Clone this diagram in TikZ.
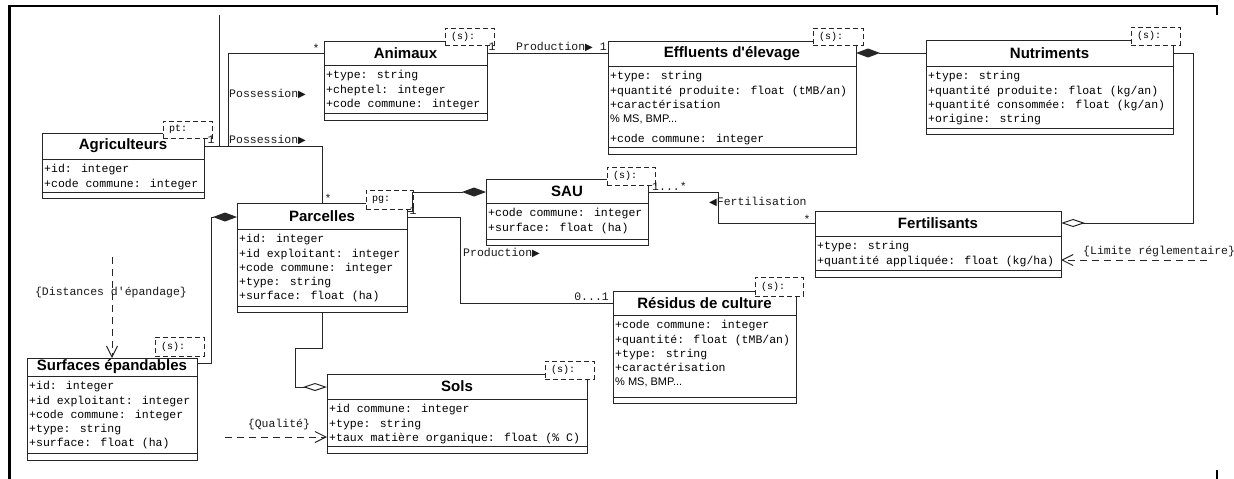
\documentclass[tikz,border=0pt]{standalone}
\usepackage{fontspec}
\newfontfamily\sansf{Liberation Sans}
\newfontfamily\monof{Liberation Mono}
\newfontfamily\symf{DejaVu Sans}
\usetikzlibrary{arrows.meta}
\newcommand{\rtri}{{\symf\fontsize{10}{10}\selectfont\raisebox{0.3pt}{▶}}}
\newcommand{\ltri}{{\symf\fontsize{10}{10}\selectfont\raisebox{0.3pt}{◀}}}
\newcommand{\pms}{{\sansf\fontsize{11}{14.3}\selectfont\% MS, BMP...}}
\tikzset{
  cbox/.style={draw=black!85, line width=1pt, inner sep=0pt, outer sep=0pt},
  cline/.style={draw=black!85, line width=1pt},
  ctitle/.style={font=\sansf\bfseries\fontsize{15}{18}\selectfont, inner sep=0pt},
  cattr/.style={font=\monof\fontsize{11.5}{14.3}\selectfont, align=left, inner sep=0pt},
  stbox/.style={draw=black!85, line width=1pt, dash pattern=on 5pt off 3pt, fill=white, inner sep=0pt, outer sep=0pt},
  sttxt/.style={font=\monof\fontsize{10}{12}\selectfont, inner sep=0pt, anchor=west},
  conn/.style={draw=black!85, line width=1pt},
  dep/.style={draw=black!85, line width=1pt, dash pattern=on 7pt off 5pt, -{Straight Barb[length=11pt,width=11pt]}},
  fdiam/.style={arrows={Diamond[length=24pt,width=9pt]-}},
  odiam/.style={arrows={-Diamond[length=24pt,width=8pt,fill=white]}},
  lbl/.style={font=\monof\fontsize{11.5}{12}\selectfont, inner sep=0pt, text=black!90},
}
\newcommand{\umlclass}[9]{%
  \node[cbox, minimum width={(#4-#2)*1pt}, minimum height={(#7-#3)*1pt}, anchor=north west] (#1) at (#2,#3) {};
  \draw[cline] (#2,#5) -- (#4,#5);
  \draw[cline] (#2,#6) -- (#4,#6);
  \node[ctitle] (#1-t) at ({(#2+#4)/2},{(#3+#5)/2}) {#8};
  \node[cattr, anchor=north west] (#1-a) at (#2+2,#5+3.5) {\rule{0pt}{10pt}#9};
}
\newcommand{\stereo}[6]{%
  \node[stbox, minimum width={(#4-#2)*1pt}, minimum height={(#5-#3)*1pt}, anchor=north west] (#1) at (#2,#3) {};
  \node[sttxt] (#1-t) at ([xshift=6pt]#1.west) {#6};
}
\begin{document}
\begin{tikzpicture}[x=1pt,y=-1pt]
\useasboundingbox (0,0) rectangle (1234,479);
\fill[white] (0,0) rectangle (1234,479);
% frame
\draw[line width=2.5pt] (8,6) -- (1218.2,6);
\draw[line width=2.5pt] (9.5,6) -- (9.5,479);
\draw[line width=2.5pt] (1217,6) -- (1217,15);
\draw[line width=2.5pt] (1217,470) -- (1217,479);

% classes
\umlclass{agri}{42}{133}{204}{159}{192}{198}{Agriculteurs}{+id: integer\\+code commune: integer}
\umlclass{animaux}{324}{41}{487}{65}{113}{120}{Animaux}{+type: string\\+cheptel: integer\\+code commune: integer}
\umlclass{effluents}{608}{41}{856}{66}{147}{154}{Effluents d'élevage}{+type: string\\+quantité produite: float (tMB/an)\\+caractérisation\\\pms\\[6pt]+code commune: integer}
\umlclass{nutriments}{926}{40}{1173}{66}{128}{134}{Nutriments}{+type: string\\+quantité produite: float (kg/an)\\+quantité consommée: float (kg/an)\\+origine: string}
\umlclass{parcelles}{237}{203}{407}{229}{306}{312}{Parcelles}{+id: integer\\+id exploitant: integer\\+code commune: integer\\+type: string\\+surface: float (ha)}
\umlclass{sau}{486}{179}{648}{203}{239}{245}{SAU}{+code commune: integer\\+surface: float (ha)}
\umlclass{fert}{815}{211}{1061}{236}{270}{277}{Fertilisants}{+type: string\\+quantité appliquée: float (kg/ha)}
\umlclass{residus}{613}{291}{796}{315}{397}{403}{Résidus de culture}{+code commune: integer\\+quantité: float (tMB/an)\\+type: string\\+caractérisation\\\pms}
\umlclass{sols}{327}{374}{587}{399}{446}{453}{Sols}{+id commune: integer\\+type: string\\+taux matière organique: float (\% C)}
\umlclass{surfaces}{27}{358}{197}{376}{453}{460}{Surfaces épandables}{+id: integer\\+id exploitant: integer\\+code commune: integer\\+type: string\\+surface: float (ha)}

% stereotype tags
\stereo{st-agri}{163}{121}{212}{138}{pt:}
\stereo{st-animaux}{445}{28}{494}{45}{(s):}
\stereo{st-effluents}{813}{28}{863}{45}{(s):}
\stereo{st-nutriments}{1131}{27}{1180}{45}{(s):}
\stereo{st-parcelles}{366}{190}{413}{209}{pg:}
\stereo{st-sau}{607}{167}{655}{185}{(s):}
\stereo{st-residus}{755}{277}{803}{296}{(s):}
\stereo{st-sols}{545}{361}{594}{379}{(s):}
\stereo{st-surfaces}{155}{337}{204}{356}{(s):}

% connectors
\coordinate (agrip) at ([yshift=-13pt]agri.north east);
\coordinate (topend) at (219,15);
\draw[conn] (topend) -- (topend |- agrip);
\draw[conn] (agrip) -- ++(24,0) |- ([yshift=-12pt]animaux.north west);
\draw[conn] (agrip) -| ([xshift=85pt]parcelles.north west);
\draw[conn] ([yshift=-12pt]animaux.north east) -- ([yshift=-12pt]effluents.north west);
\draw[conn, fdiam] ([yshift=-12pt]effluents.north east) -- ([yshift=-13pt]nutriments.north west);
\draw[conn, odiam] ([yshift=-13pt]nutriments.north east) -- ++(20,0) |- ([yshift=-12pt]fert.north east);
\draw[conn] ([yshift=-13pt]sau.north east) -- ++(70,0) |- ([yshift=-12pt]fert.north west);
\draw[conn, fdiam] ([yshift=-13pt]sau.north west) -- ++(-74,0) -- ++(0,19) -- ([yshift=-8pt]parcelles.north east);
\draw[conn] ([yshift=-14pt]parcelles.north east) -- ++(53,0) |- ([yshift=-12pt]residus.north west);
\draw[conn, fdiam] ([yshift=-14pt]parcelles.north west) -- ++(-26,0) |- ([yshift=-5pt]surfaces.north east);
\draw[conn, odiam] ([xshift=85pt]parcelles.south west) -- ++(0,36) -- ++(-27,0) |- ([yshift=-13pt]sols.north west);
\coordinate (dstart) at (112,257);
\draw[dep] (dstart) -- (surfaces.north);
\coordinate (qstart) at (225,437);
\draw[dep] (qstart) -- (qstart -| sols.west);
\coordinate (lstart) at (1207,260);
\draw[dep] (lstart) -- (lstart -| fert.east);

% labels
\node[lbl, anchor=west] (l-poss1) at (229,94) {Possession\rtri};
\node[lbl, anchor=west] (l-poss2) at (229,140) {Possession\rtri};
\node[lbl] (m-agri) at (211,140) {1};
\node[lbl] (m-anim1) at (316,48) {*};
\node[lbl] (m-parc1) at (328,198) {*};
\node[lbl] (m-anim2) at (492,47) {1};
\node[lbl, anchor=west] (l-prod1) at (516,47) {Production\rtri{} 1};
\node[lbl, anchor=west] (m-sau) at (652,186) {1...*};
\node[lbl, anchor=west] (l-fert) at (709,202) {\ltri Fertilisation};
\node[lbl] (m-fert) at (807,219) {*};
\node[lbl] (m-pg) at (413,211) {1};
\node[lbl, anchor=west] (l-prod2) at (463,253) {Production\rtri};
\node[lbl, anchor=east] (m-res) at (609,297) {0...1};
\node[lbl] (l-dist) at (111,293) {\{Distances d'épandage\}};
\node[lbl] (l-qual) at (279,425) {\{Qualité\}};
\node[lbl, anchor=west] (l-lim) at (1083,252) {\{Limite réglementaire\}};
\end{tikzpicture}
\end{document}
